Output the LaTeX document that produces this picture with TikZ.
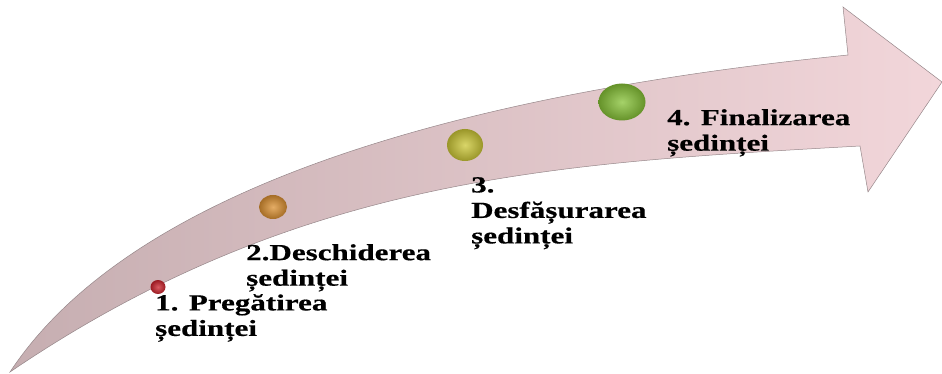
\documentclass[tikz,border=0pt]{standalone}
\usepackage{fontspec}
\usetikzlibrary{shapes.geometric}
\newfontfamily\lblfont{Liberation Serif}[FakeStretch=1.35,FakeBold=0.5]
\definecolor{bandL}{RGB}{198,174,177}
\definecolor{bandR}{RGB}{242,214,218}
\definecolor{bandEdge}{RGB}{150,135,138}
\definecolor{redB}{RGB}{205,35,45}
\definecolor{orangeB}{RGB}{220,145,50}
\definecolor{yellowB}{RGB}{205,200,55}
\definecolor{greenB}{RGB}{135,195,55}
\tikzset{
  ballnode/.style={ellipse, inner sep=0pt, draw=none, shading=radial,
    inner color=#1!75!white, outer color=#1!75!black},
  lbl/.style={anchor=north west, inner sep=0pt, align=left,
    font=\lblfont\bfseries\fontsize{23}{25.5}\selectfont, text=black},
}
\begin{document}
\begin{tikzpicture}[x=1pt,y=-1pt]
\useasboundingbox (0,0) rectangle (942,374);
% curved arrow band
\shade[left color=bandL, right color=bandR, draw=bandEdge, line width=0.5pt]
  (10,372) .. controls (130,190) and (450,95) .. (848,55)
  -- (843,7) -- (942,82) -- (868,192) -- (860,146)
  .. controls (560,163) and (300,175) .. (10,372) -- cycle;
% balls
\node[ballnode=redB, minimum width=15pt, minimum height=14pt] (b1) at (158,287) {};
\node[ballnode=orangeB, minimum width=28pt, minimum height=24pt] (b2) at (273,207) {};
\node[ballnode=yellowB, minimum width=36pt, minimum height=32pt] (b3) at (465,145) {};
\node[ballnode=greenB, minimum width=47pt, minimum height=37pt] (b4) at (622,102) {};
% labels
\node[lbl] (l1) at (155,294) {1. Pregătirea\\ședinței};
\node[lbl] (l2) at (246,244) {2.Deschiderea\\ședinței};
\node[lbl] (l3) at (471,177) {3.\\Desfășurarea\\ședinței};
\node[lbl] (l4) at (667,109) {4. Finalizarea\\ședinței};
\end{tikzpicture}
\end{document}
